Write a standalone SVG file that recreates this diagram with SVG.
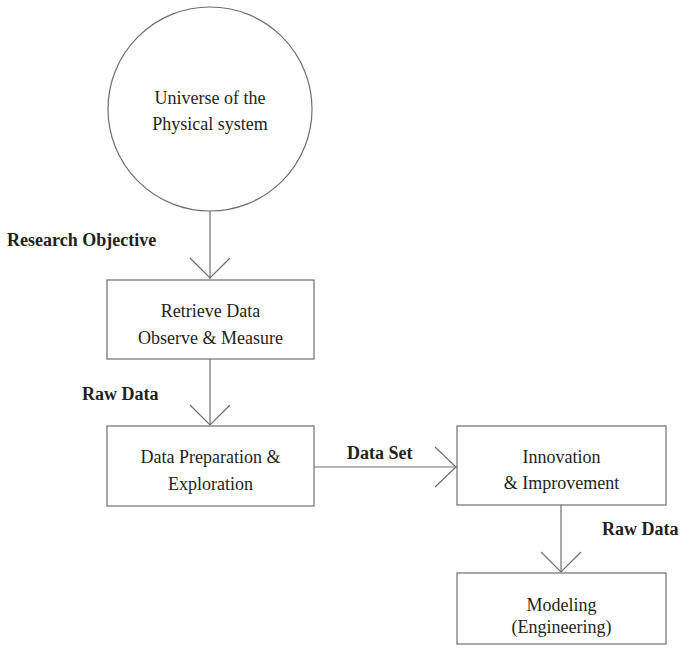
<svg xmlns="http://www.w3.org/2000/svg" width="684" height="654" viewBox="0 0 684 654">
<style>
.shape{fill:#fff;stroke:#6d6e71;stroke-width:1.2}
.t{font-family:"Liberation Serif","Times New Roman",serif;font-size:18px;fill:#231f20;text-anchor:middle}
.b{font-family:"Liberation Serif","Times New Roman",serif;font-size:18px;font-weight:bold;fill:#231f20}
.c{fill:none;stroke:#6d6e71;stroke-width:1.2}
</style>
<rect width="684" height="654" fill="#fff"/>
<g id="connectors">
<line class="c" x1="210" y1="211" x2="210" y2="279"/>
<polyline class="c" points="190,258 210,278 230,258"/>
<line class="c" x1="210" y1="359" x2="210" y2="425"/>
<polyline class="c" points="190,405 210,425 230,405"/>
<line class="c" x1="314" y1="467" x2="457" y2="467"/>
<polyline class="c" points="435,447 456,467 435,487"/>
<line class="c" x1="561" y1="505" x2="561" y2="572"/>
<polyline class="c" points="541,552 561,572 581,552"/>
<text class="b" x="7" y="246">Research Objective</text>
<text class="b" x="82" y="400">Raw Data</text>
<text class="b" x="347" y="459">Data Set</text>
<text class="b" x="602" y="535">Raw Data</text>
</g>
<g id="universe">
<circle class="shape" cx="210" cy="109" r="102"/>
<text class="t" x="210" y="104">Universe of the</text>
<text class="t" x="210" y="130">Physical system</text>
</g>
<g id="retrieve">
<rect class="shape" x="107" y="280" width="207" height="79"/>
<text class="t" x="210.5" y="317">Retrieve Data</text>
<text class="t" x="210.5" y="344">Observe &amp; Measure</text>
</g>
<g id="preparation">
<rect class="shape" x="107" y="426" width="207" height="80"/>
<text class="t" x="210.5" y="463">Data Preparation &amp;</text>
<text class="t" x="210.5" y="490">Exploration</text>
</g>
<g id="innovation">
<rect class="shape" x="457" y="426" width="209" height="79"/>
<text class="t" x="561.5" y="463">Innovation</text>
<text class="t" x="561.5" y="489">&amp; Improvement</text>
</g>
<g id="modeling">
<rect class="shape" x="457" y="573" width="209" height="71"/>
<text class="t" x="561.5" y="611">Modeling</text>
<text class="t" x="561.5" y="633">(Engineering)</text>
</g>
</svg>
